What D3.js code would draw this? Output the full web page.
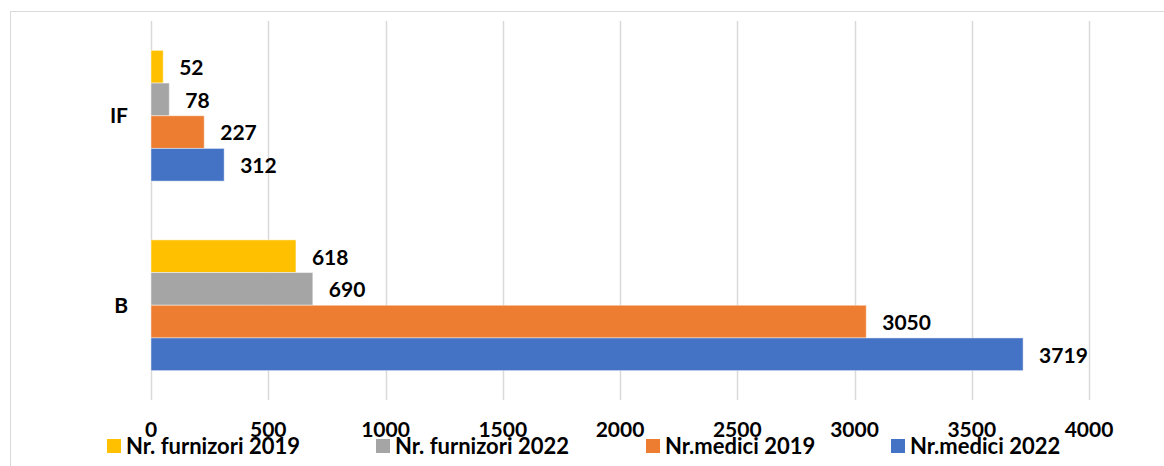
<!DOCTYPE html>
<html>
<head>
<meta charset="utf-8">
<script src="https://cdn.jsdelivr.net/npm/d3@7"></script>
<style>
  html, body { margin: 0; padding: 0; background: #fff; }
  svg { display: block; font-family: Lato, "Open Sans", sans-serif; font-weight: bold; }
</style>
</head>
<body>
<svg id="chart" width="1164" height="466"></svg>
<script>
// categories, top to bottom
const categories = ["IF", "B"];
const seriesNames = ["Nr. furnizori 2019", "Nr. furnizori 2022", "Nr.medici 2019", "Nr.medici 2022"];
const seriesColors = ["#FFC000", "#A5A5A5", "#ED7D31", "#4472C4"];
// values per series, in category order
const furnizori2019 = [52, 618];
const furnizori2022 = [78, 690];
const medici2019 = [227, 3050];
const medici2022 = [312, 3719];
const xTicks = [0, 500, 1000, 1500, 2000, 2500, 3000, 3500, 4000];

const seriesValues = [furnizori2019, furnizori2022, medici2019, medici2022];

const svg = d3.select("#chart");

// chart frame (runs off the right/bottom edge like the screenshot)
svg.append("rect")
  .attr("x", 10.5).attr("y", 11.5)
  .attr("width", 1170).attr("height", 470)
  .attr("fill", "none")
  .attr("stroke", "#d9d9d9");

const plot = { left: 151, right: 1089, top: 21, bottom: 400 };

const x = d3.scaleLinear().domain([0, 4000]).range([plot.left, plot.right]);
const y = d3.scaleBand()
  .domain(categories)
  .range([plot.top, plot.bottom])
  .paddingInner(0.31)
  .paddingOuter(0.155);
const ySeries = d3.scaleBand()
  .domain(seriesNames)
  .range([0, y.bandwidth()]);

// gridlines
svg.append("g")
  .selectAll("line")
  .data(xTicks)
  .join("line")
  .attr("x1", (d) => Math.round(x(d)) + 0.5)
  .attr("x2", (d) => Math.round(x(d)) + 0.5)
  .attr("y1", plot.top)
  .attr("y2", plot.bottom)
  .attr("stroke", "#d9d9d9")
  .attr("stroke-width", 1.5);

// x tick labels
svg.append("g")
  .selectAll("text")
  .data(xTicks)
  .join("text")
  .attr("x", (d) => x(d))
  .attr("y", 437)
  .attr("text-anchor", "middle")
  .attr("font-size", 21)
  .attr("fill", "#000")
  .text((d) => d);

// category labels
svg.append("g")
  .selectAll("text")
  .data(categories)
  .join("text")
  .attr("x", 128)
  .attr("y", (d) => y(d) + y.bandwidth() / 2)
  .attr("dy", "0.35em")
  .attr("text-anchor", "end")
  .attr("font-size", 21)
  .attr("fill", "#000")
  .text((d) => d);

// bars
const rows = [];
categories.forEach((c, ci) => {
  seriesNames.forEach((s, si) => {
    rows.push({ cat: c, series: s, color: seriesColors[si], value: seriesValues[si][ci] });
  });
});

const barG = svg.append("g");
barG.selectAll("rect")
  .data(rows)
  .join("rect")
  .attr("x", x(0))
  .attr("y", (d) => y(d.cat) + ySeries(d.series))
  .attr("width", (d) => x(d.value) - x(0))
  .attr("height", ySeries.bandwidth())
  .attr("fill", (d) => d.color)
  .attr("stroke", "rgba(255,255,255,0.45)")
  .attr("stroke-width", 1);

barG.selectAll("text")
  .data(rows)
  .join("text")
  .attr("x", (d) => x(d.value) + 16)
  .attr("y", (d) => y(d.cat) + ySeries(d.series) + ySeries.bandwidth() / 2)
  .attr("dy", "0.4em")
  .attr("font-size", 21)
  .attr("fill", "#000")
  .text((d) => d.value);

// legend
const legendX = [107, 376, 646, 891];
const legend = svg.append("g")
  .selectAll("g")
  .data(seriesNames)
  .join("g")
  .attr("transform", (d, i) => `translate(${legendX[i]},439)`);
legend.append("rect")
  .attr("width", 14).attr("height", 14)
  .attr("fill", (d, i) => seriesColors[i]);
legend.append("text")
  .attr("x", 19)
  .attr("y", 15)
  .attr("font-size", 22)
  .attr("fill", "#000")
  .text((d) => d);
</script>
</body>
</html>
